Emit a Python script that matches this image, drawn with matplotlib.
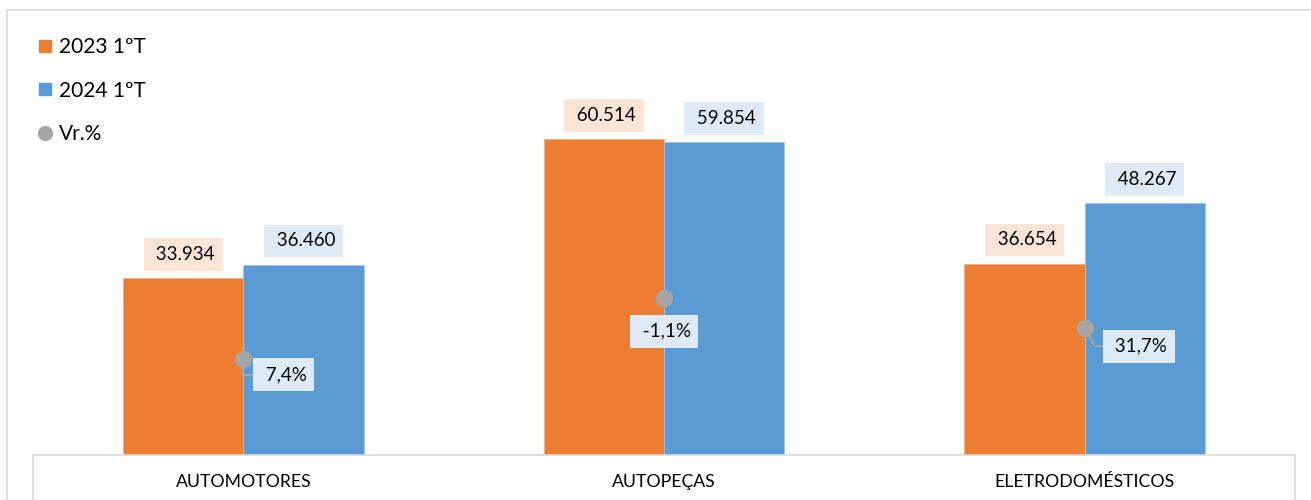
import matplotlib.pyplot as plt
from matplotlib.lines import Line2D
import numpy as np

plt.rcParams["font.family"] = ["Lato", "DejaVu Sans"]

# dados
categorias = ["AUTOMOTORES", "AUTOPEÇAS", "ELETRODOMÉSTICOS"]
serie_2023 = [33934, 60514, 36654]
serie_2024 = [36460, 59854, 48267]
vr_labels = ["7,4%", "-1,1%", "31,7%"]
# altura dos pontos no eixo secundário
vr_eixo = [21.6, 35.3, 28.5]
nomes = ["2023 1ºT", "2024 1ºT", "Vr.%"]

LARANJA = "#ED7D31"
AZUL = "#5B9BD5"
CINZA = "#A5A5A5"
LINHA = "#D9D9D9"

W, H = 1311, 500
fig = plt.figure(figsize=(W / 100, H / 100), dpi=100)

# área do gráfico em pixels
x0, x1, ybase, ytop = 33, 1295, 455, 10
ax = fig.add_axes([x0 / W, (H - ybase) / H, (x1 - x0) / W, (ybase - ytop) / H])

x = np.arange(len(categorias))
bw = 0.286
b1 = ax.bar(x - bw / 2, serie_2023, bw, color=LARANJA, edgecolor="#F4B183", linewidth=0.6)
b2 = ax.bar(x + bw / 2, serie_2024, bw, color=AZUL, edgecolor="#9DC3E6", linewidth=0.6)

ax.set_xlim(-0.5, 2.5)
ax.set_ylim(0, 85200)
for s in ax.spines.values():
    s.set_visible(False)
ax.set_yticks([])
ax.set_xticks(x)
ax.set_xticklabels(categorias, fontsize=12.7, color="#000000")
ax.tick_params(axis="x", length=0, pad=13.5)

# rótulos das barras
for bars, vals, fc in ((b1, serie_2023, "#FBE5D6"), (b2, serie_2024, "#DEEBF7")):
    for r, v in zip(bars, vals):
        txt = f"{v:,}".replace(",", ".")
        ax.annotate(" " + txt, (r.get_x() + r.get_width() / 2, v),
                    xytext=(0, 17), textcoords="offset points",
                    ha="center", va="center", fontsize=13.5, color="#000000",
                    bbox=dict(boxstyle="square,pad=0.42", fc=fc, ec="none"))

# variação % no eixo secundário
ax2 = ax.twinx()
ax2.set_ylim(0, 100)
ax2.set_yticks([])
for s in ax2.spines.values():
    s.set_visible(False)
ax2.plot(x, vr_eixo, "o", color=CINZA, markersize=11.5, zorder=5)

offsets = [(29, -11.5), (0, -24), (39, -13)]
conns = ["angle,angleA=0,angleB=90,rad=0", None, "angle,angleA=0,angleB=120,rad=0"]
for xi, yv, lab, off, cs in zip(x, vr_eixo, vr_labels, offsets, conns):
    ap = None
    if cs:
        ap = dict(arrowstyle="-", color=CINZA, lw=1.2, connectionstyle=cs,
                  shrinkA=0, shrinkB=0)
    ax2.annotate(" " + lab, (xi, yv), xytext=off, textcoords="offset points",
                 ha="center", va="center", fontsize=13.5, color="#000000",
                 bbox=dict(boxstyle="square,pad=0.42", fc="#DEEBF7", ec="none"),
                 arrowprops=ap)

# legenda
handles = [
    Line2D([], [], marker="s", color=LARANJA, ls="none", markersize=9),
    Line2D([], [], marker="s", color=AZUL, ls="none", markersize=9),
    Line2D([], [], marker="o", color=CINZA, ls="none", markersize=10),
]
fig.legend(handles, nomes, loc="upper left", bbox_to_anchor=(38 / W, 1 - 37 / H),
           frameon=False, fontsize=15, labelspacing=1.13, handlelength=0.7,
           handletextpad=0.3, borderpad=0, borderaxespad=0)

# moldura e caixa do eixo de categorias
fig.add_artist(Line2D([7 / W, 7 / W], [0, 1 - 10 / H], color=LINHA, lw=1.2))
fig.add_artist(Line2D([7 / W, 1], [1 - 10 / H, 1 - 10 / H], color=LINHA, lw=1.2))
fig.add_artist(Line2D([x0 / W, x1 / W], [1 - ybase / H] * 2, color=LINHA, lw=1.2))
fig.add_artist(Line2D([x0 / W] * 2, [0, 1 - ybase / H], color=LINHA, lw=1.2))
fig.add_artist(Line2D([x1 / W] * 2, [0, 1 - ybase / H], color=LINHA, lw=1.2))

fig.savefig("out.png", dpi=100)
